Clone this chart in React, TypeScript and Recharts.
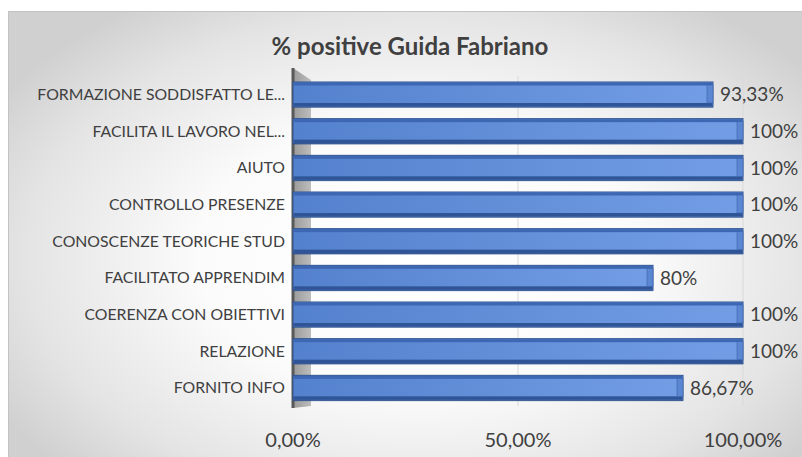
import React from "react";
import {
  BarChart,
  Bar,
  XAxis,
  YAxis,
  CartesianGrid,
  LabelList,
  ReferenceArea,
} from "recharts";

const categories = [
  "FORMAZIONE SODDISFATTO LE...",
  "FACILITA IL LAVORO NEL...",
  "AIUTO",
  "CONTROLLO PRESENZE",
  "CONOSCENZE TEORICHE STUD",
  "FACILITATO APPRENDIM",
  "COERENZA CON OBIETTIVI",
  "RELAZIONE",
  "FORNITO INFO",
];
const positive = [0.9333, 1, 1, 1, 1, 0.8, 1, 1, 0.8667];
const xTicks = [0, 0.5, 1];

const data = categories.map((name, i) => ({ name, value: positive[i] }));

const FONT = "Lato, 'Open Sans', sans-serif";

const fmtTick = (v: number) => (v * 100).toFixed(2).replace(".", ",") + "%";
const fmtLabel = (v: number) => {
  const p = Math.round(v * 10000) / 100;
  return Number.isInteger(p) ? `${p}%` : p.toFixed(2).replace(".", ",") + "%";
};

// 3D-looking bar: face + darker top/bottom bevels + end cap
const Bar3D = (props: any) => {
  const { x, y, width, height } = props;
  if (!width || width <= 0) return null;
  const cap = 6;
  return (
    <g>
      <rect x={x} y={y + 1} width={width} height={height} fill="#2a4d8f" opacity={0.35} />
      <rect x={x} y={y} width={width} height={height} fill="url(#barFace)" stroke="#2f528f" strokeWidth={1} />
      <rect x={x + 0.5} y={y + 0.5} width={width - 1} height={3} fill="#3d66b3" />
      <rect x={x + 0.5} y={y + height - 4} width={width - 1} height={3.5} fill="#2f5597" />
      <rect x={x + width - cap} y={y + 3} width={cap} height={height - 7} fill="#5a86d2" stroke="#3a62aa" strokeWidth={0.6} />
    </g>
  );
};

// grey side wall next to the category axis
const Wall = (props: any) => {
  const { x, y, width, height } = props;
  return (
    <g>
      <polygon
        points={`${x},${y - 8} ${x + width},${y + 4} ${x + width},${y + height} ${x},${y + height + 2}`}
        fill="url(#wallFill)"
      />
      <line x1={x} y1={y - 8} x2={x} y2={y + height + 2} stroke="#595959" strokeWidth={3} />
    </g>
  );
};

export default function App() {
  return (
    <div style={{ position: "absolute", left: 0, top: 0, width: 802, height: 457, background: "#ffffff", overflow: "hidden" }}>
      <div
        style={{
          position: "absolute",
          left: 8,
          top: 11,
          width: 820,
          height: 470,
          borderTop: "1px solid #c3c3c3",
          borderLeft: "1px solid #c3c3c3",
          background: "radial-gradient(ellipse 60% 65% at 50% 52%, #ffffff 0%, #fbfbfb 45%, #e4e4e4 80%, #d0d0d0 100%)",
        }}
      />
      <div
        style={{
          position: "absolute",
          left: 0,
          top: 31,
          width: 820,
          textAlign: "center",
          fontFamily: FONT,
          fontWeight: 700,
          fontSize: 24,
          lineHeight: "30px",
          color: "#404040",
        }}
      >
        % positive Guida Fabriano
      </div>
      <div style={{ position: "absolute", left: 0, top: 0 }}>
        <BarChart
          width={802}
          height={457}
          data={data}
          layout="vertical"
          margin={{ top: 76, right: 59, bottom: 21, left: 0 }}
          barSize={25}
        >
          <defs>
            <linearGradient id="barFace" x1="0" y1="0" x2="1" y2="0">
              <stop offset="0%" stopColor="#5481cd" />
              <stop offset="100%" stopColor="#739ee6" />
            </linearGradient>
            <linearGradient id="wallFill" x1="0" y1="0" x2="1" y2="0">
              <stop offset="0%" stopColor="#9a9a9a" />
              <stop offset="100%" stopColor="#bdbdbd" />
            </linearGradient>
          </defs>
          <CartesianGrid horizontal={false} vertical stroke="#d9d9d9" />
          <XAxis
            type="number"
            domain={[0, 1]}
            ticks={xTicks}
            tickFormatter={fmtTick}
            axisLine={false}
            tickLine={false}
            tickSize={0}
            tickMargin={27}
            tick={{ fontSize: 20, fill: "#404040", fontFamily: FONT }}
          />
          <YAxis
            type="category"
            dataKey="name"
            width={293}
            axisLine={false}
            tickLine={false}
            tickSize={0}
            tickMargin={8}
            interval={0}
            tick={{ fontSize: 15.8, fill: "#404040", fontFamily: FONT }}
          />
          <ReferenceArea x1={0} x2={0.04} shape={Wall} ifOverflow="visible" />
          <Bar dataKey="value" shape={Bar3D} isAnimationActive={false}>
            <LabelList
              dataKey="value"
              position="right"
              offset={7}
              formatter={fmtLabel}
              style={{ fontSize: 19, fill: "#404040", fontFamily: FONT }}
            />
          </Bar>
        </BarChart>
      </div>
    </div>
  );
}
